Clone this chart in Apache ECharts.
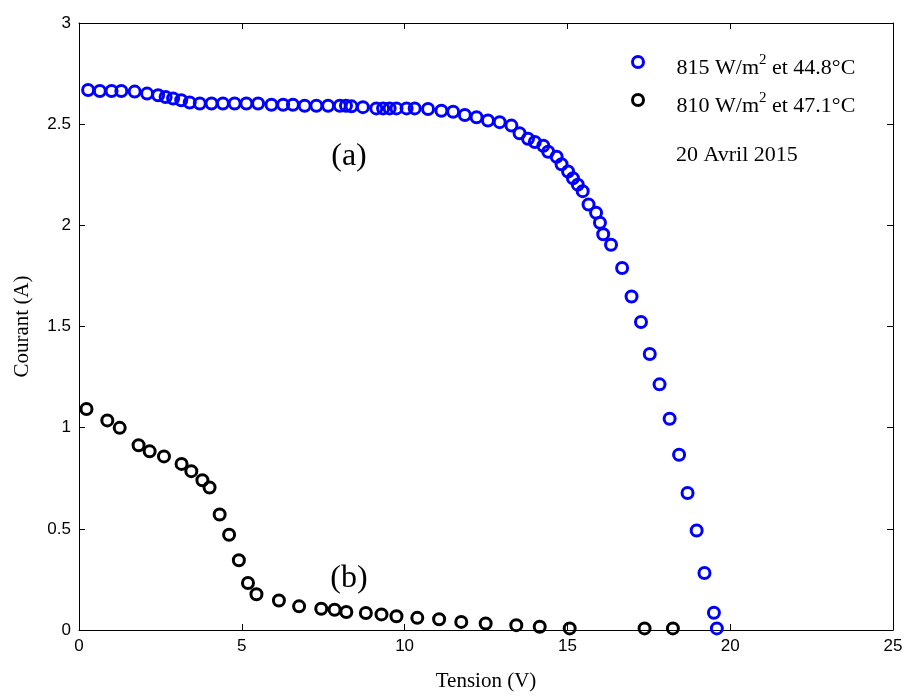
<!DOCTYPE html>
<html>
<head>
<meta charset="utf-8">
<script src="https://cdn.jsdelivr.net/npm/echarts@6/dist/echarts.min.js"></script>
<style>
  html, body { margin: 0; padding: 0; background: #fff; }
  #chart { width: 906px; height: 697px; }
</style>
</head>
<body>
<div id="chart"></div>
<script>
// I-V curve of a PV module, two measurement series (20 Avril 2015)
const tensionA = [0.28, 0.64, 1.00, 1.30, 1.71, 2.09, 2.43, 2.66, 2.89, 3.14, 3.40, 3.71, 4.07, 4.42, 4.78,
  5.14, 5.50, 5.91, 6.27, 6.57, 6.93, 7.29, 7.65, 8.01, 8.20, 8.37, 8.72, 9.13, 9.34, 9.54, 9.75, 10.06,
  10.31, 10.72, 11.13, 11.49, 11.85, 12.21, 12.56, 12.92, 13.28, 13.53, 13.79, 14.00, 14.26, 14.41,
  14.67, 14.82, 15.02, 15.17, 15.32, 15.47, 15.65, 15.88, 16.00, 16.10, 16.34, 16.68, 16.97, 17.26,
  17.53, 17.83, 18.14, 18.43, 18.69, 18.97, 19.21, 19.50, 19.59];
const courantA = [2.669, 2.664, 2.664, 2.664, 2.661, 2.651, 2.643, 2.634, 2.627, 2.618, 2.607, 2.602, 2.602,
  2.602, 2.602, 2.602, 2.602, 2.596, 2.596, 2.596, 2.591, 2.591, 2.591, 2.591, 2.591, 2.588, 2.584, 2.578,
  2.578, 2.578, 2.578, 2.578, 2.578, 2.575, 2.566, 2.561, 2.545, 2.534, 2.518, 2.510, 2.493, 2.455, 2.428,
  2.412, 2.393, 2.364, 2.339, 2.302, 2.266, 2.233, 2.201, 2.169, 2.103, 2.062, 2.013, 1.956, 1.904, 1.789,
  1.648, 1.522, 1.364, 1.214, 1.044, 0.866, 0.677, 0.492, 0.282, 0.085, 0.008];

const tensionB = [0.23, 0.87, 1.25, 1.83, 2.17, 2.61, 3.15, 3.45, 3.79, 4.01, 4.32, 4.61, 4.91, 5.19, 5.45,
  6.14, 6.76, 7.44, 7.85, 8.21, 8.81, 9.29, 9.75, 10.39, 11.06, 11.74, 12.49, 13.43, 14.15, 15.07, 17.37, 18.24];
const courantB = [1.092, 1.036, 0.999, 0.913, 0.883, 0.858, 0.821, 0.785, 0.740, 0.704, 0.571, 0.471, 0.345,
  0.232, 0.177, 0.146, 0.117, 0.105, 0.100, 0.089, 0.084, 0.077, 0.068, 0.060, 0.053, 0.040, 0.032, 0.024,
  0.016, 0.008, 0.008, 0.008];

const nomA = '815 W/m2 et 44.8°C';
const nomB = '810 W/m2 et 47.1°C';
const xTicks = [0, 5, 10, 15, 20, 25];
const yTicks = [0, 0.5, 1, 1.5, 2, 2.5, 3];

const serif = "'Liberation Serif', 'Times New Roman', serif";
const sans = "'Liberation Sans', Arial, sans-serif";

function pairs(xs, ys) { return xs.map((x, i) => [x, ys[i]]); }

const chart = echarts.init(document.getElementById('chart'), null, { renderer: 'canvas' });

const axisCommon = {
  axisLine: { show: true, onZero: false, lineStyle: { color: '#000', width: 1 } },
  axisTick: { show: true, inside: true, length: 6, lineStyle: { color: '#000', width: 1 } },
  splitLine: { show: false }
};

chart.setOption({
  animation: false,
  backgroundColor: '#fff',
  grid: { left: 79, right: 13, top: 23, bottom: 59, containLabel: false },
  xAxis: [
    Object.assign({}, axisCommon, {
      type: 'value', position: 'bottom', min: 0, max: 25, interval: 5,
      name: 'Tension (V)', nameLocation: 'middle', nameGap: 41,
      nameTextStyle: { fontFamily: serif, fontSize: 21, color: '#000' },
      axisLabel: { color: '#000', fontFamily: sans, fontSize: 17, margin: 8,
        formatter: v => xTicks.includes(v) ? String(v) : '' }
    }),
    Object.assign({}, axisCommon, {
      type: 'value', position: 'top', min: 0, max: 25, interval: 5,
      axisLabel: { show: false }
    })
  ],
  yAxis: [
    Object.assign({}, axisCommon, {
      type: 'value', position: 'left', min: 0, max: 3, interval: 0.5,
      name: 'Courant (A)', nameLocation: 'middle', nameGap: 46, nameRotate: 90,
      nameTextStyle: { fontFamily: serif, fontSize: 21, color: '#000' },
      axisLabel: { color: '#000', fontFamily: sans, fontSize: 17, margin: 8,
        formatter: v => yTicks.includes(v) ? String(v) : '' }
    }),
    Object.assign({}, axisCommon, {
      type: 'value', position: 'right', min: 0, max: 3, interval: 0.5,
      axisLabel: { show: false }
    })
  ],
  legend: {
    show: true,
    orient: 'vertical',
    left: 626, top: 48,
    padding: 5,
    itemGap: 12,
    itemWidth: 11, itemHeight: 11,
    icon: 'circle',
    data: [
      { name: nomA, itemStyle: { color: '#fff', borderColor: '#0000ff', borderWidth: 3 } },
      { name: nomB, itemStyle: { color: '#fff', borderColor: '#000', borderWidth: 3 } }
    ],
    formatter: function (name) {
      const parts = name.split('m2');
      return '{n|' + parts[0] + 'm}{sup|2}{n|' + parts[1] + '}';
    },
    textStyle: {
      padding: [8, 0, 0, 28],
      rich: {
        n: { fontFamily: serif, fontSize: 22, color: '#000', lineHeight: 26, verticalAlign: 'bottom' },
        sup: { fontFamily: serif, fontSize: 15, color: '#000', lineHeight: 15, verticalAlign: 'top' }
      }
    }
  },
  graphic: [
    { type: 'text', x: 676, y: 155, style: { text: '20 Avril 2015', font: '22px ' + serif, fill: '#000',
        textAlign: 'left', textVerticalAlign: 'middle' } },
    { type: 'text', x: 349, y: 157, style: { text: '(a)', font: '32px ' + serif, fill: '#000',
        textAlign: 'center', textVerticalAlign: 'middle' } },
    { type: 'text', x: 349, y: 579, style: { text: '(b)', font: '32px ' + serif, fill: '#000',
        textAlign: 'center', textVerticalAlign: 'middle' } }
  ],
  series: [
    {
      name: nomA, type: 'scatter', xAxisIndex: 0, yAxisIndex: 0,
      data: pairs(tensionA, courantA),
      symbol: 'circle', symbolSize: 11,
      itemStyle: { color: 'rgba(0,0,0,0)', borderColor: '#0000ff', borderWidth: 3, opacity: 1 },
      emphasis: { disabled: true }
    },
    {
      name: nomB, type: 'scatter', xAxisIndex: 0, yAxisIndex: 0,
      data: pairs(tensionB, courantB),
      symbol: 'circle', symbolSize: 11,
      itemStyle: { color: 'rgba(0,0,0,0)', borderColor: '#000', borderWidth: 3, opacity: 1 },
      emphasis: { disabled: true }
    }
  ]
});
</script>
</body>
</html>
